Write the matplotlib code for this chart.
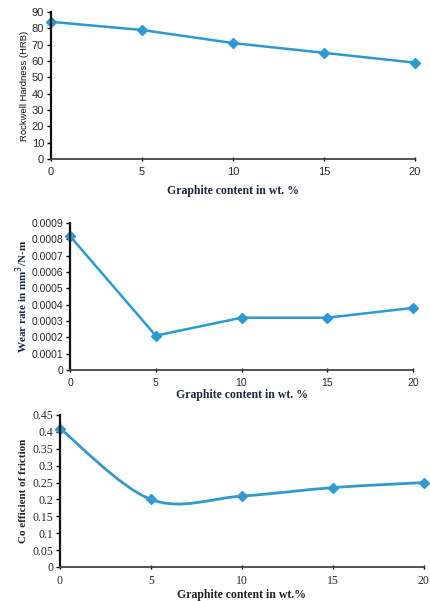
import numpy as np
import matplotlib
matplotlib.use("Agg")
import matplotlib.pyplot as plt
from matplotlib.path import Path
from matplotlib.patches import PathPatch

# data
graphite = [0, 5, 10, 15, 20]
hardness = [84, 79, 71, 65, 59]
wear_rate = [0.00082, 0.00021, 0.00032, 0.00032, 0.00038]
friction = [0.41, 0.20, 0.21, 0.235, 0.25]

hard_ticks = list(range(0, 91, 10))
wear_ticks = [0, 0.0001, 0.0002, 0.0003, 0.0004, 0.0005, 0.0006, 0.0007, 0.0008, 0.0009]
wear_labels = ["0", "0.0001", "0.0002", "0.0003", "0.0004", "0.0005", "0.0006", "0.0007", "0.0008", "0.0009"]
fric_ticks = [0, 0.05, 0.1, 0.15, 0.2, 0.25, 0.3, 0.35, 0.4, 0.45]
fric_labels = ["0", "0.05", "0.1", "0.15", "0.2", "0.25", "0.3", "0.35", "0.4", "0.45"]

blue = "#2b9ad3"
navy = "#1c2740"
sans = "Liberation Sans"
serif = "Liberation Serif"


def style_axes(ax, tick_font, tick_size):
	ax.spines["top"].set_visible(False)
	ax.spines["right"].set_visible(False)
	ax.spines["left"].set_linewidth(1.6)
	ax.spines["left"].set_color("#111111")
	ax.spines["bottom"].set_linewidth(1.3)
	ax.spines["bottom"].set_color("#444444")
	ax.tick_params(axis="y", direction="out", length=3, width=1, pad=2)
	ax.tick_params(axis="x", direction="inout", length=3, width=1, pad=4)
	ax.set_xlim(0, 20)
	ax.set_xticks(graphite)
	for lab in ax.get_xticklabels() + ax.get_yticklabels():
		lab.set_fontfamily(tick_font)
		lab.set_fontsize(tick_size)
		lab.set_color("#2a2a2a")


def smooth_path(xs, ys):
	# Excel style smoothed line: cubic bezier through the points
	pts = np.column_stack([xs, ys]).astype(float)
	verts = [pts[0]]
	codes = [Path.MOVETO]
	n = len(pts)
	for i in range(n - 1):
		p0 = pts[i - 1] if i > 0 else pts[i]
		p1 = pts[i]
		p2 = pts[i + 1]
		p3 = pts[i + 2] if i + 2 < n else pts[i + 1]
		c1 = p1 + (p2 - p0) / 6.0
		c2 = p2 - (p3 - p1) / 6.0
		verts += [c1, c2, p2]
		codes += [Path.CURVE4] * 3
	return Path(verts, codes)


fig = plt.figure(figsize=(4.3, 6.01), dpi=100)

# panel 1: hardness
ax1 = fig.add_axes([0.1186, 0.7354, 0.8465, 0.2446])
ax1.plot(graphite, hardness, color=blue, lw=1.8, marker="D", ms=5, clip_on=False)
ax1.set_ylim(0, 90)
ax1.set_yticks(hard_ticks)
style_axes(ax1, sans, 8)
ax1.set_ylabel("Rockwell Hardness (HRB)", fontfamily=sans, fontsize=6.8, color="#111111", labelpad=2)
ax1.set_xlabel("Graphite content in wt. %", fontfamily=serif, fontweight="bold", fontsize=8.5,
	color=navy, labelpad=6)

# panel 2: wear rate
ax2 = fig.add_axes([0.1628, 0.3844, 0.7977, 0.2446])
ax2.plot(graphite, wear_rate, color=blue, lw=1.8, marker="D", ms=5, clip_on=False)
ax2.set_ylim(0, 0.0009)
ax2.set_yticks(wear_ticks)
ax2.set_yticklabels(wear_labels)
style_axes(ax2, sans, 7.5)
ax2.set_ylabel("Wear rate in mm$^3$/N-m", fontfamily=serif, fontweight="bold", fontsize=8,
	color=navy, labelpad=1)
ax2.set_xlabel("Graphite content in wt. %", fontfamily=serif, fontweight="bold", fontsize=8.5,
	color=navy, labelpad=1)

# panel 3: coefficient of friction (smoothed line)
ax3 = fig.add_axes([0.1395, 0.0566, 0.846, 0.2529])
patch = PathPatch(smooth_path(graphite, friction), facecolor="none", edgecolor="#3199cc",
	lw=2.0, clip_on=False)
ax3.add_patch(patch)
ax3.plot(graphite, friction, ls="none", color="#3199cc", marker="D", ms=5, clip_on=False)
ax3.set_ylim(0, 0.45)
ax3.set_yticks(fric_ticks)
ax3.set_yticklabels(fric_labels)
style_axes(ax3, serif, 8.5)
ax3.set_ylabel("Co efficient of friction", fontfamily=serif, fontweight="bold", fontsize=8,
	color="#222222", labelpad=3)
ax3.set_xlabel("Graphite content in wt.%", fontfamily=serif, fontweight="bold", fontsize=8.5,
	color="#222222", labelpad=2)

fig.savefig("out.png", dpi=100)
